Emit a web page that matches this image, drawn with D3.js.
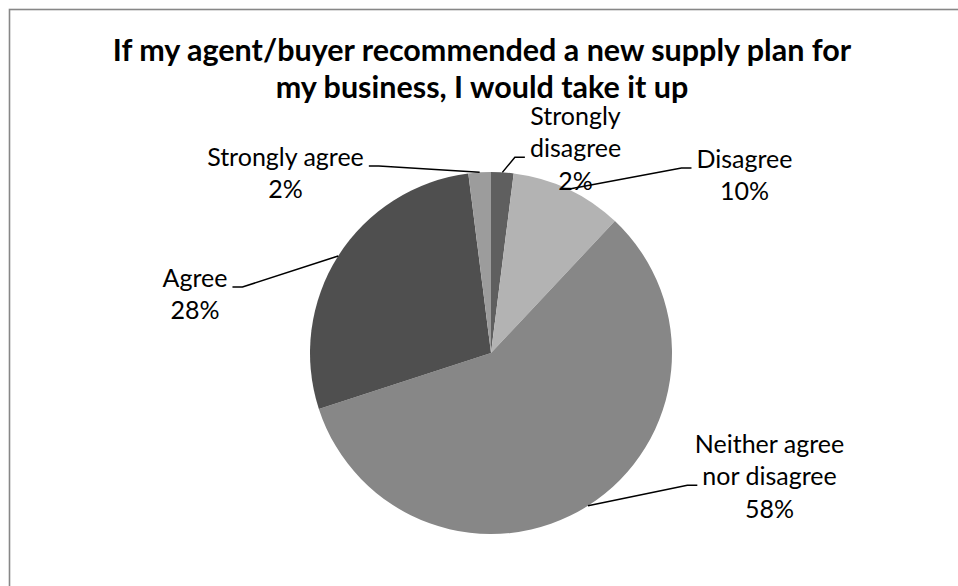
<!DOCTYPE html>
<html>
<head>
<meta charset="utf-8">
<script src="https://cdn.jsdelivr.net/npm/d3@7"></script>
<style>
  html, body { margin: 0; padding: 0; background: #fff; overflow: hidden; }
  svg { display: block; }
  text { font-family: Lato, "Open Sans", sans-serif; fill: #000; }
</style>
</head>
<body>
<svg id="chart" width="958" height="586"></svg>
<script>
// Survey responses, in slice order (clockwise from 12 o'clock)
const categories = ["Strongly disagree", "Disagree", "Neither agree nor disagree", "Agree", "Strongly agree"];
const percents = [2, 10, 58, 28, 2];
const labelLines = [
  ["Strongly", "disagree"],
  ["Disagree"],
  ["Neither agree", "nor disagree"],
  ["Agree"],
  ["Strongly agree"]
];
const titleLines = [
  "If my agent/buyer recommended a new supply plan for",
  "my business, I would take it up"
];

// Presentation
const sliceColors = ["#5f5f5f", "#b3b3b3", "#878787", "#4f4f4f", "#9c9c9c"];
const W = 958, H = 586;
const cx = 491, cy = 353, R = 181;
const lineGap = 32.3;
// label placement: text centre / first baseline relative to pie centre,
// side of the pie, and the text line that the leader attaches to
const labelLayout = [
  { dx: 84.5,  dy: -228, side: "right", attach: 1 },
  { dx: 253.5, dy: -185, side: "right", attach: 0 },
  { dx: 278.5, dy: 100,  side: "right", attach: 1 },
  { dx: -296,  dy: -66,  side: "left",  attach: 0 },
  { dx: -205.5, dy: -187, side: "left", attach: 0 }
];

const svg = d3.select("#chart");

// chart frame
svg.append("rect")
  .attr("x", 9.5).attr("y", 9.5)
  .attr("width", W + 20).attr("height", H + 20)
  .attr("fill", "#fff")
  .attr("stroke", "#878787")
  .attr("stroke-width", 1.6);

// title
const title = svg.append("text")
  .attr("text-anchor", "middle")
  .style("font-weight", "700")
  .style("font-size", "30.5px");
titleLines.forEach((t, i) => {
  title.append("tspan").attr("x", 482).attr("y", 61 + i * 36.5).text(t);
});

const data = categories.map((c, i) => ({ name: c, value: percents[i], idx: i }));

const pie = d3.pie().sort(null).value(d => d.value);
const arcs = pie(data);
const arc = d3.arc().innerRadius(0).outerRadius(R);
const edgeArc = d3.arc().innerRadius(R).outerRadius(R);

const g = svg.append("g").attr("transform", `translate(${cx},${cy})`);

g.selectAll("path.slice")
  .data(arcs)
  .join("path")
  .attr("class", "slice")
  .attr("d", arc)
  .attr("fill", d => sliceColors[d.data.idx]);

// data labels
const labels = svg.append("g");
arcs.forEach(a => {
  const i = a.data.idx;
  const lay = labelLayout[i];
  const tx = cx + lay.dx, ty = cy + lay.dy;
  const lines = labelLines[i].concat([d3.format(".0%")(a.data.value / 100)]);
  const t = labels.append("text")
    .attr("text-anchor", "middle")
    .style("font-size", "25px");
  const spans = lines.map((s, k) =>
    t.append("tspan").attr("x", tx).attr("y", ty + k * lineGap).text(s));

  // leader line: from the slice edge to the attached text line
  const node = spans[lay.attach].node();
  const w = node.getComputedTextLength();
  const sy = ty + lay.attach * lineGap;
  const sx = lay.side === "right" ? tx - w / 2 - 5 : tx + w / 2 + 5;
  const ex = lay.side === "right" ? sx - 10 : sx + 10;
  const [px, py] = edgeArc.centroid(a);
  svg.append("path")
    .attr("d", d3.line()([[cx + px, cy + py], [ex, sy], [sx, sy]]))
    .attr("fill", "none")
    .attr("stroke", "#000")
    .attr("stroke-width", 1.5);
});
labels.raise();
</script>
</body>
</html>
